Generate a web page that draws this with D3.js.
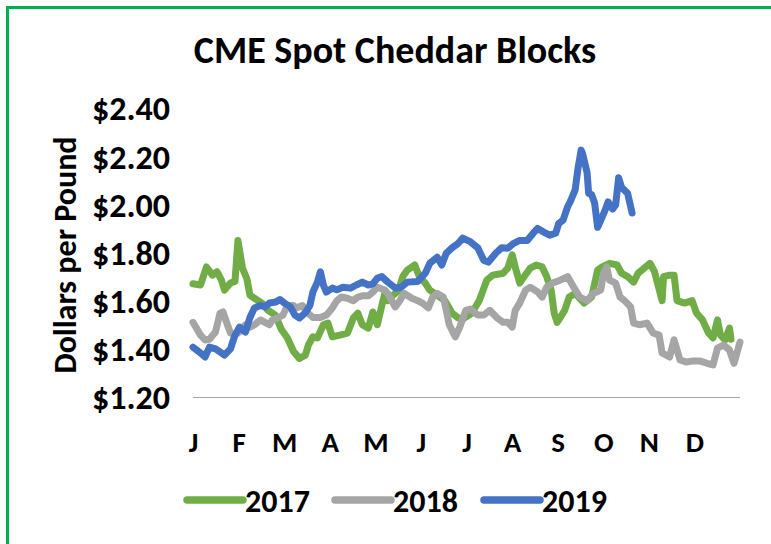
<!DOCTYPE html>
<html>
<head>
<meta charset="utf-8">
<script src="https://cdn.jsdelivr.net/npm/d3@7"></script>
<style>
  body { margin: 0; background: #fff; }
  text { font-family: Carlito, Calibri, Lato, "Open Sans", sans-serif; font-weight: bold; fill: #000; }
</style>
</head>
<body>
<svg width="771" height="544"></svg>
<script>
// month tick labels
var months = ["J", "F", "M", "A", "M", "J", "J", "A", "S", "O", "N", "D"];
var yTicks = [1.2, 1.4, 1.6, 1.8, 2.0, 2.2, 2.4];
var years = ["2017", "2018", "2019"];
var colors = ["#70AD47", "#A5A5A5", "#4472C4"];

// day of year / price pairs
var days2017 = [0,5,9,13,16,19,21,25,28,30,33,36,38,41,46,50,55,59,63,67,71,75,77,80,83,87,90,93,98,103,107,110,113,117,120,123,126,128,130,133,137,140,143,148,151,155,158,163,168,173,177,181,186,191,196,200,207,210,213,215,218,221,225,229,233,236,239,241,243,248,251,255,261,266,270,273,278,283,286,290,294,297,302,305,308,313,314,318,321,323,328,333,336,340,344,347,350,352,355,358,359];
var price2017 = [1.67,1.665,1.74,1.706,1.72,1.685,1.644,1.673,1.68,1.85,1.735,1.69,1.623,1.61,1.59,1.56,1.54,1.48,1.445,1.39,1.36,1.374,1.416,1.45,1.445,1.50,1.507,1.45,1.457,1.465,1.528,1.548,1.50,1.486,1.553,1.50,1.58,1.63,1.60,1.62,1.64,1.70,1.727,1.748,1.70,1.673,1.644,1.623,1.60,1.548,1.528,1.528,1.548,1.60,1.685,1.706,1.714,1.735,1.79,1.74,1.673,1.70,1.735,1.748,1.74,1.70,1.644,1.548,1.51,1.56,1.615,1.63,1.59,1.615,1.727,1.74,1.755,1.748,1.714,1.70,1.677,1.714,1.74,1.755,1.72,1.60,1.70,1.706,1.706,1.60,1.59,1.60,1.548,1.52,1.466,1.445,1.52,1.457,1.437,1.486,1.44];

var days2018 = [0,5,8,11,15,18,20,23,25,28,31,35,38,41,45,48,51,53,57,60,63,67,69,73,76,80,85,89,93,96,99,103,107,110,113,117,120,123,128,130,135,138,141,146,150,153,157,160,163,167,169,171,175,178,182,185,190,194,198,203,207,210,213,215,218,222,225,230,233,236,240,245,250,254,258,263,267,272,274,276,278,282,285,288,292,294,298,303,307,311,313,318,321,325,329,334,338,343,347,350,354,358,361,365];
var price2018 = [1.51,1.457,1.437,1.44,1.47,1.548,1.553,1.50,1.466,1.457,1.47,1.50,1.49,1.50,1.52,1.51,1.50,1.52,1.53,1.54,1.58,1.58,1.57,1.58,1.553,1.53,1.53,1.54,1.57,1.60,1.615,1.61,1.60,1.615,1.62,1.62,1.636,1.656,1.644,1.63,1.574,1.60,1.63,1.61,1.60,1.59,1.57,1.615,1.63,1.615,1.56,1.50,1.45,1.49,1.56,1.565,1.54,1.54,1.56,1.528,1.51,1.51,1.49,1.56,1.59,1.644,1.656,1.636,1.615,1.656,1.673,1.685,1.70,1.656,1.615,1.60,1.63,1.644,1.714,1.74,1.685,1.673,1.615,1.60,1.574,1.507,1.50,1.507,1.466,1.457,1.383,1.366,1.437,1.354,1.345,1.35,1.35,1.34,1.333,1.403,1.416,1.395,1.34,1.428];

var days2019 = [0,5,8,11,15,18,21,25,28,31,35,38,41,45,48,51,55,58,61,65,68,71,75,78,80,83,85,87,89,93,96,100,105,109,113,117,120,123,126,130,135,139,143,150,155,158,163,166,169,173,177,180,185,190,194,197,202,206,210,214,218,223,227,230,234,238,242,244,247,250,252,255,257,259,260,263,264,266,268,270,273,275,277,280,282,284,286,290,293];
var price2019 = [1.407,1.383,1.366,1.407,1.40,1.387,1.374,1.40,1.457,1.49,1.47,1.53,1.57,1.58,1.574,1.59,1.594,1.605,1.59,1.574,1.54,1.528,1.55,1.58,1.636,1.677,1.72,1.665,1.636,1.652,1.645,1.656,1.652,1.665,1.677,1.665,1.67,1.694,1.70,1.677,1.652,1.656,1.677,1.68,1.714,1.755,1.78,1.748,1.797,1.82,1.838,1.86,1.845,1.82,1.768,1.76,1.797,1.82,1.818,1.838,1.85,1.85,1.88,1.90,1.885,1.872,1.88,1.92,1.935,1.99,2.015,2.06,2.154,2.225,2.21,2.13,2.046,2.04,2.005,1.905,1.947,1.976,2.01,1.98,1.997,2.11,2.07,2.046,1.964];

var allDays = [days2017, days2018, days2019];
var allPrices = [price2017, price2018, price2019];

var svg = d3.select("svg");

// green chart frame
svg.append("rect")
    .attr("x", 7.5).attr("y", 7.5)
    .attr("width", 800).attr("height", 560)
    .attr("fill", "none")
    .attr("stroke", "#00B050")
    .attr("stroke-width", 3);

var x = d3.scaleLinear().domain([0, 365]).range([193, 740]);
var y = d3.scaleLinear().domain([1.2, 2.4]).range([397, 108]);

svg.append("text")
    .attr("x", 395).attr("y", 63)
    .attr("text-anchor", "middle")
    .style("font-size", "38px")
    .text("CME Spot Cheddar Blocks");

// y axis labels
var yAxis = d3.axisLeft(y)
    .tickValues(yTicks)
    .tickSize(0)
    .tickPadding(23)
    .tickFormat(function(d) { return "$" + d3.format(".2f")(d); });

svg.append("g")
    .attr("transform", "translate(193,0)")
    .call(yAxis)
    .call(function(g) {
      g.select(".domain").remove();
      g.selectAll("text").style("font-size", "34px").attr("dy", "0.35em");
    });

svg.append("text")
    .attr("transform", "translate(76,255) rotate(-90)")
    .attr("text-anchor", "middle")
    .style("font-size", "32px")
    .text("Dollars per Pound");

// x axis
var xMonth = d3.scaleLinear().domain([0, 12]).range([193, 740]);
svg.append("g")
    .attr("transform", "translate(0,397)")
    .call(d3.axisBottom(xMonth).tickValues(d3.range(12)).tickSize(0)
      .tickFormat(function(d) { return months[d]; }))
    .call(function(g) {
      g.select(".domain").attr("stroke", "#a6a6a6").attr("d", "M193,0.5H740");
      g.selectAll("text").style("font-size", "29px").attr("y", 55).attr("dy", 0);
    });

var line = d3.line()
    .x(function(d) { return x(d[0]); })
    .y(function(d) { return y(d[1]); });

years.forEach(function(yr, i) {
  var pts = allDays[i].map(function(d, j) { return [d, allPrices[i][j]]; });
  svg.append("path")
      .datum(pts)
      .attr("fill", "none")
      .attr("stroke", colors[i])
      .attr("stroke-width", 7)
      .attr("stroke-linejoin", "round")
      .attr("stroke-linecap", "round")
      .attr("d", line);
});

// legend
var legendX = [187, 335, 484];
var lg = svg.append("g").attr("class", "legend");
years.forEach(function(yr, i) {
  lg.append("line")
      .attr("x1", legendX[i]).attr("x2", legendX[i] + 56)
      .attr("y1", 500).attr("y2", 500)
      .attr("stroke", colors[i])
      .attr("stroke-width", 7.5)
      .attr("stroke-linecap", "round");
  lg.append("text")
      .attr("x", legendX[i] + 58).attr("y", 512)
      .style("font-size", "32px")
      .text(yr);
});
</script>
</body>
</html>
